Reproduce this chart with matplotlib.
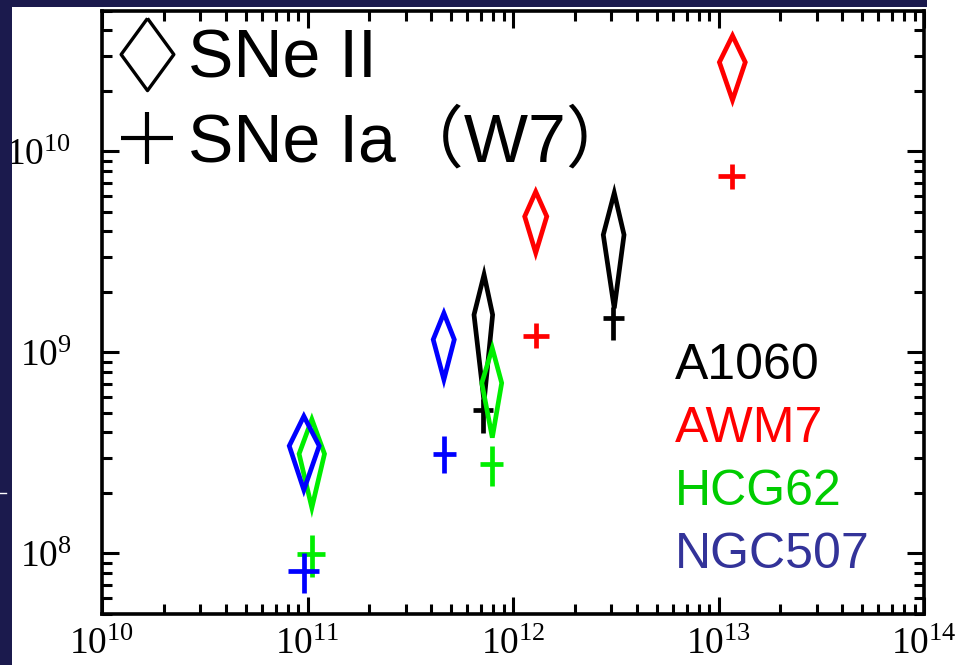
import math
import matplotlib
matplotlib.use("Agg")
import matplotlib.pyplot as plt
from matplotlib.lines import Line2D
from matplotlib.patches import Rectangle, Polygon
from matplotlib.ticker import LogLocator, FuncFormatter, NullFormatter

# === Data ===
clusters = ["A1060", "AWM7", "HCG62", "NGC507"]
marker_colors = ["black", "#ff0000", "#00ee00", "#0000ff"]
label_colors = ["black", "#ff0000", "#00cc00", "#333399"]

# two points per cluster, same order as clusters
point_cluster = [0, 0, 1, 1, 2, 2, 3, 3]

# SNe II : diamonds (centre, x range, y range)
sn2_x = [7.23e11, 3.11e12, 1.29e12, 1.17e13, 1.05e11, 7.93e11, 9.6e10, 4.61e11]
sn2_xlo = [6.46e11, 2.75e12, 1.14e12, 1.01e13, 9.1e10, 7.05e11, 8.15e10, 4.09e11]
sn2_xhi = [7.96e11, 3.47e12, 1.46e12, 1.35e13, 1.21e11, 8.81e11, 1.14e11, 5.18e11]
sn2_y = [1.54e9, 3.85e9, 4.75e9, 2.78e10, 3.13e8, 7.05e8, 3.43e8, 1.16e9]
sn2_ylo = [5.7e8, 1.66e9, 3.13e9, 1.8e10, 1.69e8, 3.77e8, 2.07e8, 7.33e8]
sn2_yhi = [2.44e9, 6.22e9, 6.31e9, 3.77e10, 4.65e8, 1.05e9, 4.82e8, 1.57e9]

# SNe Ia (W7) : crosses
sn1a_x = [7.17e11, 3.08e12, 1.29e12, 1.16e13, 1.05e11, 7.93e11, 9.57e10, 4.6e11]
sn1a_xlo = [6.41e11, 2.73e12, 1.12e12, 9.98e12, 8.85e10, 6.9e11, 8.05e10, 4.06e11]
sn1a_xhi = [8.02e11, 3.47e12, 1.49e12, 1.35e13, 1.22e11, 8.91e11, 1.14e11, 5.26e11]
sn1a_y = [5.17e8, 1.48e9, 1.21e9, 7.52e9, 9.9e7, 2.78e8, 8.17e7, 3.14e8]
sn1a_ylo = [3.98e8, 1.16e9, 1.05e9, 6.5e9, 7.6e7, 2.17e8, 6.34e7, 2.52e8]
sn1a_yhi = [5.85e8, 1.69e9, 1.4e9, 8.65e9, 1.24e8, 3.43e8, 1.01e8, 3.84e8]

legend_labels = ["SNe II", "SNe Ia（W7）"]

# === Fonts ===
plt.rcParams["mathtext.fontset"] = "custom"
plt.rcParams["mathtext.rm"] = "Liberation Serif"
plt.rcParams["mathtext.default"] = "rm"

W, H = 956, 665
fig = plt.figure(figsize=(W / 100, H / 100), dpi=100, facecolor="white")

# dark frame strips
navy = "#1b1a4d"
fig.patches.append(Rectangle((0, 1 - 7 / H), 927 / W, 7 / H, transform=fig.transFigure,
                             facecolor=navy, edgecolor="none", zorder=0))
fig.patches.append(Rectangle((0, 0), 12 / W, 1, transform=fig.transFigure,
                             facecolor=navy, edgecolor="none", zorder=0))
fig.lines.append(Line2D([0, 6 / W], [1 - 493 / H, 1 - 493 / H], transform=fig.transFigure,
                        color="white", lw=1))

ax = fig.add_axes([102 / W, 1 - 614 / H, 822 / W, 603 / H])
ax.set_xscale("log")
ax.set_yscale("log")
ax.set_xlim(1e10, 1e14)
ax.set_ylim(5e7, 5e10)

# === Marks ===
for c in range(len(clusters)):
    col = marker_colors[c]
    for i in range(len(point_cluster)):
        if point_cluster[i] != c:
            continue
        verts = [(sn2_x[i], sn2_yhi[i]), (sn2_xhi[i], sn2_y[i]),
                 (sn2_x[i], sn2_ylo[i]), (sn2_xlo[i], sn2_y[i])]
        ax.add_patch(Polygon(verts, closed=True, fill=False, edgecolor=col,
                             lw=3.4, joinstyle="miter", zorder=3 + c))
        ax.vlines(sn1a_x[i], sn1a_ylo[i], sn1a_yhi[i], color=col, lw=3.4, zorder=3 + c)
        ax.hlines(sn1a_y[i], sn1a_xlo[i], sn1a_xhi[i], color=col, lw=3.4, zorder=3 + c)

# === Axes styling ===
for s in ax.spines.values():
    s.set_linewidth(2.6)

ax.xaxis.set_major_locator(LogLocator(base=10, numticks=10))
ax.yaxis.set_major_locator(LogLocator(base=10, numticks=10))
ax.xaxis.set_minor_locator(LogLocator(base=10, subs=range(2, 10), numticks=20))
ax.yaxis.set_minor_locator(LogLocator(base=10, subs=range(2, 10), numticks=20))
fmt = FuncFormatter(lambda v, p: r"$10^{%d}$" % round(math.log10(v)))
ax.xaxis.set_major_formatter(fmt)
ax.yaxis.set_major_formatter(fmt)
ax.xaxis.set_minor_formatter(NullFormatter())
ax.yaxis.set_minor_formatter(NullFormatter())

ax.tick_params(which="both", direction="in", top=True, right=True, width=2.2, colors="black")
ax.tick_params(which="major", length=12.5)
ax.tick_params(which="minor", length=7)
ax.tick_params(axis="x", which="major", pad=9, labelsize=27)
ax.tick_params(axis="y", which="major", pad=22, labelsize=27)

# === Legend ===
diamond = [(0, 1), (0.73, 0), (0, -1), (-0.73, 0), (0, 1)]
handles = [
    Line2D([], [], ls="none", marker=diamond, markersize=52, markerfacecolor="none",
           markeredgecolor="black", markeredgewidth=2.4),
    Line2D([], [], ls="none", marker="+", markersize=37, markeredgecolor="black",
           markeredgewidth=3.0),
]
ax.legend(handles, legend_labels, loc="upper left", bbox_to_anchor=(113 / W, 1 - 28 / H),
          bbox_transform=fig.transFigure, frameon=False, borderpad=0, borderaxespad=0,
          handlelength=1.0, handletextpad=0.1, labelspacing=0.28,
          prop={"family": ["Liberation Sans", "Noto Sans CJK JP"], "size": 49})

# cluster names
for c, name in enumerate(clusters):
    ax.text(0.697, 0.3897 - c * 0.1045, name, transform=ax.transAxes, color=label_colors[c],
            fontsize=36, family="Liberation Sans", ha="left", va="baseline")

fig.savefig("out.png", dpi=100, facecolor=fig.get_facecolor())
